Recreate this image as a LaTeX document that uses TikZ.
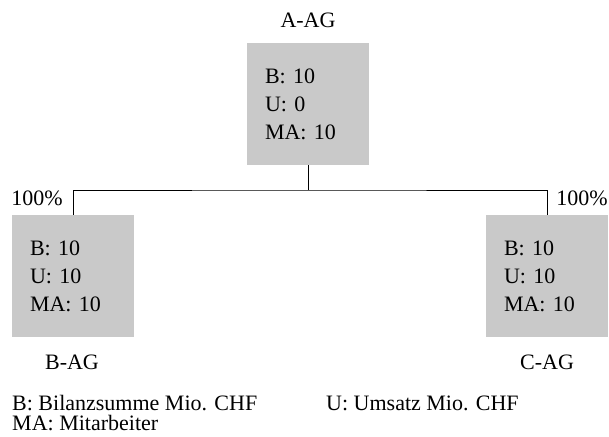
\documentclass[tikz,border=0pt]{standalone}
\usepackage{fontspec}
\setmainfont{Liberation Serif}
\usepackage{tikz}
\usetikzlibrary{positioning, calc}

\definecolor{boxgrau}{gray}{0.79}

\tikzset{
  firma/.style={rectangle, fill=boxgrau, inner xsep=18pt, inner ysep=0pt,
    text width=86pt, minimum height=122pt, align=left,
    font=\fontsize{22}{28}\selectfont},
  schrift/.style={font=\fontsize{22}{25}\selectfont, inner sep=0pt, anchor=base},
  linie/.style={line width=0.9pt}
}

\begin{document}
\begin{tikzpicture}[x=1pt, y=-1pt]
            \useasboundingbox (0,0) rectangle (609,436);

            % Gesellschaften
            \node[firma] (A) at (308,104) {B: 10\\U: 0\\MA: 10};
            \node[firma] (B) at (73,276) {B: 10\\U: 10\\MA: 10};
            \node[firma] (C) at (547,276) {B: 10\\U: 10\\MA: 10};

            \node[schrift] (nA) at (308,28) {A-AG};
            \node[schrift] (nB) at (72,369) {B-AG};
            \node[schrift] (nC) at (547,369) {C-AG};

            % Beteiligungen
            \coordinate (mitte) at (308,190);
            \draw[linie] (A.south) -- (mitte);
            \draw[linie] (B.north) |- (mitte) -| (C.north);
            \node[schrift] (pB) at (37,205) {100\%};
            \node[schrift] (pC) at (582,205) {100\%};

            % Legende
            \node[schrift, anchor=base west] (lB) at (12,410) {B: Bilanzsumme Mio. CHF};
            \node[schrift, anchor=base west] (lU) at (326,410) {U: Umsatz Mio. CHF};
            \node[schrift, anchor=base west] (lMA) at (12,430) {MA: Mitarbeiter};
        \end{tikzpicture}
\end{document}
